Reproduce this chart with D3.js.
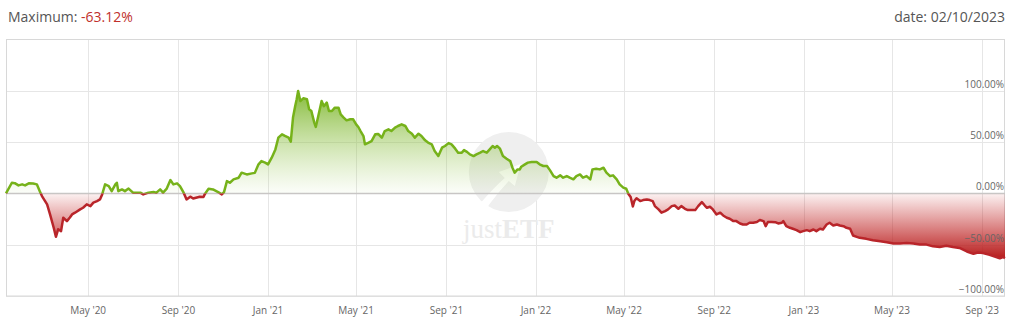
<!DOCTYPE html>
<html>
<head>
<meta charset="utf-8">
<script src="https://cdn.jsdelivr.net/npm/d3@7"></script>
<style>
  body { margin: 0; background: #fff; }
  svg { display: block; font-family: "Open Sans", sans-serif; }
</style>
</head>
<body>
<div id="chart"></div>
<script>
// Performance since inception
const dates = [
  "2020-01-10","2020-01-18","2020-01-22","2020-01-27","2020-02-01","2020-02-05","2020-02-10","2020-02-16","2020-02-21","2020-02-25",
  "2020-02-28","2020-03-06","2020-03-10","2020-03-15","2020-03-18","2020-03-21","2020-03-25","2020-03-28","2020-04-02","2020-04-06",
  "2020-04-09","2020-04-13","2020-04-20","2020-04-24","2020-04-29","2020-05-04","2020-05-08","2020-05-13","2020-05-17","2020-05-20",
  "2020-05-24","2020-05-29","2020-06-02","2020-06-07","2020-06-09","2020-06-11","2020-06-16","2020-06-20","2020-06-25","2020-07-01",
  "2020-07-11","2020-07-15","2020-07-22","2020-07-29","2020-08-02","2020-08-07","2020-08-11","2020-08-16","2020-08-21","2020-08-25",
  "2020-08-30","2020-09-03","2020-09-08","2020-09-12","2020-09-17","2020-09-21","2020-09-30","2020-10-05","2020-10-07","2020-10-12",
  "2020-10-18","2020-10-25","2020-10-30","2020-11-02","2020-11-06","2020-11-10","2020-11-15","2020-11-22","2020-11-26","2020-12-03",
  "2020-12-10","2020-12-14","2020-12-19","2020-12-23","2020-12-28","2021-01-01","2021-01-06","2021-01-11","2021-01-15","2021-01-20",
  "2021-01-24","2021-01-29","2021-02-01","2021-02-04","2021-02-07","2021-02-09","2021-02-11","2021-02-14","2021-02-18","2021-02-23",
  "2021-02-26","2021-03-01","2021-03-05","2021-03-07","2021-03-10","2021-03-15","2021-03-18","2021-03-22","2021-03-25","2021-03-29",
  "2021-04-02","2021-04-07","2021-04-10","2021-04-14","2021-04-18","2021-04-23","2021-04-27","2021-05-01","2021-05-04","2021-05-07",
  "2021-05-11","2021-05-13","2021-05-18","2021-05-22","2021-05-27","2021-05-31","2021-06-05","2021-06-09","2021-06-14","2021-06-18",
  "2021-06-23","2021-06-27","2021-07-02","2021-07-07","2021-07-11","2021-07-16","2021-07-20","2021-07-25","2021-07-29","2021-08-03",
  "2021-08-07","2021-08-12","2021-08-16","2021-08-21","2021-08-26","2021-08-30","2021-09-04","2021-09-08","2021-09-13","2021-09-17",
  "2021-09-22","2021-09-25","2021-09-29","2021-10-03","2021-10-08","2021-10-12","2021-10-17","2021-10-21","2021-10-26","2021-10-30",
  "2021-11-03","2021-11-06","2021-11-09","2021-11-13","2021-11-17","2021-11-22","2021-11-27","2021-11-30","2021-12-03","2021-12-07",
  "2021-12-10","2021-12-12","2021-12-17","2021-12-21","2021-12-26","2022-01-02","2022-01-06","2022-01-11","2022-01-16","2022-01-20",
  "2022-01-25","2022-01-29","2022-02-03","2022-02-07","2022-02-12","2022-02-16","2022-02-21","2022-02-25","2022-03-02","2022-03-06",
  "2022-03-11","2022-03-16","2022-03-19","2022-03-24","2022-03-29","2022-04-03","2022-04-07","2022-04-12","2022-04-16","2022-04-21",
  "2022-04-25","2022-04-30","2022-05-04","2022-05-07","2022-05-10","2022-05-13","2022-05-15","2022-05-18","2022-05-23","2022-05-27",
  "2022-06-01","2022-06-05","2022-06-09","2022-06-12","2022-06-17","2022-06-21","2022-06-26","2022-06-30","2022-07-05","2022-07-09",
  "2022-07-14","2022-07-18","2022-07-23","2022-07-27","2022-08-01","2022-08-06","2022-08-10","2022-08-15","2022-08-19","2022-08-22",
  "2022-08-26","2022-08-30","2022-09-04","2022-09-09","2022-09-13","2022-09-18","2022-09-22","2022-09-27","2022-10-01","2022-10-06",
  "2022-10-10","2022-10-15","2022-10-19","2022-10-24","2022-10-29","2022-11-02","2022-11-07","2022-11-10","2022-11-13","2022-11-18",
  "2022-11-23","2022-11-27","2022-12-02","2022-12-04","2022-12-08","2022-12-13","2022-12-17","2022-12-22","2022-12-27","2022-12-31",
  "2023-01-05","2023-01-09","2023-01-14","2023-01-18","2023-01-23","2023-01-27","2023-02-01","2023-02-05","2023-02-10","2023-02-15",
  "2023-02-19","2023-02-24","2023-02-28","2023-03-05","2023-03-09","2023-03-14","2023-03-18","2023-03-27","2023-04-05","2023-04-15",
  "2023-04-24","2023-05-03","2023-05-12","2023-05-21","2023-05-30","2023-06-08","2023-06-17","2023-06-26","2023-07-05","2023-07-14",
  "2023-07-23","2023-08-01","2023-08-11","2023-08-20","2023-08-26","2023-09-02","2023-09-11","2023-09-18","2023-09-25","2023-09-29",
  "2023-10-02"
];

const values = [
  0, 10.4, 10, 7.8, 8.8, 7.8, 9.8, 9.6, 8.8, 2.2,
  -2.6, -10.7, -20.5, -33.5, -42.3, -35, -36.8, -23.7, -27, -23.5,
  -20.5, -18.8, -15.6, -14, -10.7, -12.4, -9, -7.5, -5.9, -1,
  8.8, 7.1, 2.2, 8.8, 10.4, 2.2, 3.9, 2.2, 4.7, 0.7,
  0.7, -1, 0.7, 1.3, 0.7, 3.9, 0.7, 4.7, 13, 8.8,
  9.8, 7.1, 0.7, -5.9, -3.2, -5, -3.2, -3.5, -0.5, 4.6,
  3.9, 1.3, -1, 1.3, 12, 10.4, 13.7, 15.3, 20.2, 18.5,
  19.5, 20, 28.3, 31.5, 30, 28.3, 34.8, 42.9, 54.3, 57.6,
  56, 54.3, 50.5, 73.9, 85.2, 91.7, 99.8, 90, 92.7, 91.7,
  82, 80.3, 69, 64.8, 74, 90, 85, 88.5, 80.3, 80.3,
  83.6, 83.6, 77, 73.9, 71.2, 72.2, 72.2, 67.3, 64.7, 60.8,
  55.9, 47.8, 49.5, 51, 57.6, 58, 54.3, 60.8, 62.4, 60.8,
  64.1, 65.7, 67.3, 65.7, 60.8, 58.2, 54.3, 58.2, 56, 51.7,
  49.5, 47.8, 41.3, 36.4, 44.6, 46.2, 49, 47.8, 43.6, 39.7,
  39.7, 42.2, 40.5, 38, 36.4, 38, 39.7, 41.3, 39.7, 42.9,
  46.2, 44.6, 46.2, 43.6, 36.4, 33.8, 31.5, 25, 20.2, 23.4,
  23.4, 26, 28.3, 30, 30.5, 30.5, 28.3, 26.7, 26.7, 22.7,
  16.9, 15.3, 17.6, 15.3, 16.9, 15.3, 13.7, 16.9, 18.5, 15.3,
  16.9, 13.7, 23.4, 24, 23.4, 25, 20.2, 16.9, 17.6, 13.7,
  8.8, 5.6, 4.5, -0.5, -3.5, -12.7, -7.5, -4.8, -7.5, -6.5,
  -5.9, -6.5, -7.5, -12.4, -15.6, -18.8, -17.2, -15.6, -12.4, -11.8,
  -15, -12.4, -15, -16.3, -16.3, -16.3, -12.4, -8.5, -11.8, -14,
  -13, -15.6, -20.5, -18.8, -21.5, -23.7, -24.7, -27, -27, -29.3,
  -30.3, -30.3, -28.6, -28.6, -27.9, -26, -27, -31.9, -27.9, -27.9,
  -28, -29.3, -28.6, -27, -31.9, -33.5, -34.5, -35.8, -37.8, -36.8,
  -35.8, -36.8, -35.2, -36.8, -34.5, -35.2, -30.3, -28.6, -31.3, -30.3,
  -31.3, -32, -33.5, -34.5, -41, -42.3, -43.3, -44.3, -45.6, -46.6,
  -47.6, -48.9, -48.9, -48.3, -48.9, -49.9, -49.9, -51.6, -52.2, -51,
  -52.2, -53.2, -56.6, -58.9, -57.6, -58.2, -59.9, -61.6, -63.3, -62,
  -63.12
];

const yTicks = [-100, -50, 0, 50, 100];
const maximumLabel = "-63.12%";
const dateLabel = "date: 02/10/2023";

const width = 1022;
const height = 331;
const margin = { top: 39.5, right: 17, bottom: 35, left: 6 };

const green = "#76b21a";
const red = "#b9252a";

const parseDate = d3.timeParse("%Y-%m-%d");
const data = dates.map((d, i) => ({ date: parseDate(d), value: values[i] }));

const x = d3.scaleTime()
  .domain([parseDate("2020-01-10"), parseDate("2023-10-02")])
  .range([margin.left, width - margin.right]);

const y = d3.scaleLinear()
  .domain([-100, 150])
  .range([height - margin.bottom, margin.top]);

const svg = d3.select("#chart")
  .append("svg")
  .attr("width", width)
  .attr("height", height);

const defs = svg.append("defs");

// Fill gradients, fading towards the zero line
const gUp = defs.append("linearGradient")
  .attr("id", "grad-up")
  .attr("gradientUnits", "userSpaceOnUse")
  .attr("x1", 0).attr("x2", 0)
  .attr("y1", y(100)).attr("y2", y(0));
gUp.append("stop").attr("offset", 0).attr("stop-color", "#6fae16").attr("stop-opacity", 0.85);
gUp.append("stop").attr("offset", 1).attr("stop-color", "#a9d16e").attr("stop-opacity", 0.04);

const gDown = defs.append("linearGradient")
  .attr("id", "grad-down")
  .attr("gradientUnits", "userSpaceOnUse")
  .attr("x1", 0).attr("x2", 0)
  .attr("y1", y(0)).attr("y2", y(-63));
gDown.append("stop").attr("offset", 0).attr("stop-color", "#c62828").attr("stop-opacity", 0.06);
gDown.append("stop").attr("offset", 1).attr("stop-color", "#b71c1c").attr("stop-opacity", 1);

defs.append("clipPath").attr("id", "clip-up")
  .append("rect")
  .attr("x", 0).attr("y", 0)
  .attr("width", width).attr("height", y(0));

defs.append("clipPath").attr("id", "clip-down")
  .append("rect")
  .attr("x", 0).attr("y", y(0))
  .attr("width", width).attr("height", height - y(0));

// Header
const header = svg.append("text")
  .attr("x", 8)
  .attr("y", 22)
  .attr("font-size", 14)
  .attr("fill", "#555");
header.append("tspan").text("Maximum: ");
header.append("tspan").attr("fill", "#c0302c").text(maximumLabel);

svg.append("text")
  .attr("x", width - margin.right)
  .attr("y", 22)
  .attr("text-anchor", "end")
  .attr("font-size", 14)
  .attr("fill", "#555")
  .text(dateLabel);

// Grid
const xTicks = x.ticks(d3.timeMonth.every(4));

svg.append("g")
  .selectAll("line")
  .data(xTicks)
  .join("line")
  .attr("x1", d => Math.round(x(d)) + 0.5)
  .attr("x2", d => Math.round(x(d)) + 0.5)
  .attr("y1", margin.top)
  .attr("y2", height - margin.bottom)
  .attr("stroke", "#e6e6e6");

svg.append("g")
  .selectAll("line")
  .data(yTicks.filter(d => d !== 0))
  .join("line")
  .attr("x1", margin.left)
  .attr("x2", width - margin.right)
  .attr("y1", d => Math.round(y(d)) + 0.5)
  .attr("y2", d => Math.round(y(d)) + 0.5)
  .attr("stroke", "#e6e6e6");

// Frame
svg.append("rect")
  .attr("x", margin.left + 0.5)
  .attr("y", margin.top)
  .attr("width", width - margin.left - margin.right - 1)
  .attr("height", y(-100) - margin.top)
  .attr("fill", "none")
  .attr("stroke", "#d8d8d8");

// Watermark: grey disc with a white arrow, and the name below it
const wmX = x(parseDate("2021-11-25"));
const wm = svg.append("g").attr("transform", `translate(${wmX},172)`);
wm.append("circle").attr("r", 40).attr("fill", "#efefef");
wm.append("path")
  .attr("d", "M-44,50 Q-20,20 -4,6 L-10,0 L12,-8 L6,14 L0,9 Q-18,28 -34,54 Z")
  .attr("fill", "#fff");
const wmText = svg.append("text")
  .attr("x", wmX)
  .attr("y", 238)
  .attr("text-anchor", "middle")
  .attr("font-family", "'Liberation Serif', serif")
  .attr("font-size", 27)
  .attr("fill", "#ebebeb");
wmText.append("tspan").text("just");
wmText.append("tspan").attr("font-weight", "bold").text("ETF");

// Zero line
svg.append("line")
  .attr("x1", margin.left)
  .attr("x2", width - margin.right)
  .attr("y1", Math.round(y(0)) + 0.5)
  .attr("y2", Math.round(y(0)) + 0.5)
  .attr("stroke", "#c8c8c8")
  .attr("stroke-width", 1.5);

// Area and line, green above zero and red below
const area = d3.area()
  .x(d => x(d.date))
  .y0(y(0))
  .y1(d => y(d.value));

const line = d3.line()
  .x(d => x(d.date))
  .y(d => y(d.value));

svg.append("path")
  .datum(data)
  .attr("clip-path", "url(#clip-up)")
  .attr("fill", "url(#grad-up)")
  .attr("d", area);

svg.append("path")
  .datum(data)
  .attr("clip-path", "url(#clip-down)")
  .attr("fill", "url(#grad-down)")
  .attr("d", area);

svg.append("path")
  .datum(data)
  .attr("clip-path", "url(#clip-up)")
  .attr("fill", "none")
  .attr("stroke", green)
  .attr("stroke-width", 2.5)
  .attr("stroke-linejoin", "round")
  .attr("d", line);

svg.append("path")
  .datum(data)
  .attr("clip-path", "url(#clip-down)")
  .attr("fill", "none")
  .attr("stroke", red)
  .attr("stroke-width", 2.5)
  .attr("stroke-linejoin", "round")
  .attr("d", line);

// Y labels, inside the plot on the right
svg.append("g")
  .selectAll("text")
  .data(yTicks)
  .join("text")
  .attr("x", width - margin.right - 1)
  .attr("y", d => y(d) - 3)
  .attr("text-anchor", "end")
  .attr("font-size", 10)
  .attr("fill", "#666")
  .text(d => d3.format(".2f")(d) + "%");

// X labels
const fmt = d3.timeFormat("%b '%y");
svg.append("g")
  .selectAll("text")
  .data(xTicks)
  .join("text")
  .attr("x", d => x(d))
  .attr("y", 314)
  .attr("text-anchor", "middle")
  .attr("font-size", 10)
  .attr("fill", "#666")
  .text(fmt);
</script>
</body>
</html>
